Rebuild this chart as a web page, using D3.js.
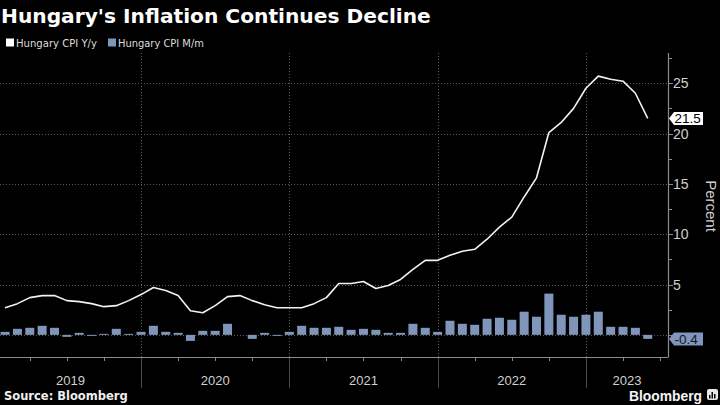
<!DOCTYPE html>
<html><head><meta charset="utf-8">
<script src="https://cdn.jsdelivr.net/npm/d3@7"></script>
<style>html,body{margin:0;padding:0;background:#000;}svg{display:block;}</style>
</head><body>
<svg id="c" width="720" height="405"></svg>
<script>
// ---- data ----
const startMonth = "2019-01";
const cpiYoY = [
  2.7, 3.1, 3.7, 3.9, 3.9, 3.4, 3.3, 3.1, 2.8, 2.9, 3.4, 4.0,
  4.7, 4.4, 3.9, 2.4, 2.2, 2.9, 3.8, 3.9, 3.4, 3.0, 2.7, 2.7,
  2.7, 3.1, 3.7, 5.1, 5.1, 5.3, 4.6, 4.9, 5.5, 6.5, 7.4, 7.4,
  7.9, 8.3, 8.5, 9.5, 10.7, 11.7, 13.7, 15.6, 20.1, 21.1, 22.5, 24.5,
  25.7, 25.4, 25.2, 24.0, 21.5
];
const cpiMoM = [
  0.3, 0.6, 0.7, 0.9, 0.7, -0.2, 0.2, -0.1, 0.1, 0.6, 0.1, 0.3,
  0.9, 0.3, 0.2, -0.6, 0.4, 0.4, 1.1, 0.0, -0.4, 0.2, -0.1, 0.3,
  0.9, 0.7, 0.7, 0.8, 0.5, 0.6, 0.5, 0.2, 0.2, 1.1, 0.7, 0.3,
  1.4, 1.1, 1.0, 1.6, 1.7, 1.5, 2.3, 1.8, 4.1, 2.0, 1.8, 2.0,
  2.3, 0.8, 0.8, 0.7, -0.4
];
const yearLabels = ["2019", "2020", "2021", "2022", "2023"];
const yTicks = [0, 5, 10, 15, 20, 25];
const seriesNames = ["Hungary CPI Y/y", "Hungary CPI M/m"];
const titleText = "Hungary's Inflation Continues Decline";
const sourceText = "Source: Bloomberg";
const yAxisTitle = "Percent";

// ---- setup ----
const svg = d3.select("#c");
const W = 720, H = 405;
const plot = {left: 0, right: 668, top: 53, bottom: 357};
const barColor = "#7f95b9";
const n = cpiYoY.length;
// month k (0 = Jan 2019) is plotted at its month end, i.e. k+1 months after the start
const x = d3.scaleLinear().domain([0.59, 54.64]).range([plot.left, plot.right]);
const y = d3.scaleLinear().domain([-2.2, 28]).range([plot.bottom, plot.top]);
const months = d3.range(n).map(k => ({k, t: k + 1, yoy: cpiYoY[k], mom: cpiMoM[k]}));
const sans = "Liberation Sans, Arial, sans-serif";
const narrow = "DejaVu Sans Condensed, Liberation Sans Narrow, Liberation Sans, sans-serif";

function fitText(sel, base, target) {
  const w = sel.node().getComputedTextLength();
  sel.attr("font-size", base * target / w);
}

svg.append("rect").attr("width", W).attr("height", H).attr("fill", "#000");

svg.append("clipPath").attr("id", "pc").append("rect")
  .attr("x", plot.left).attr("y", plot.top).attr("width", plot.right - plot.left).attr("height", plot.bottom - plot.top);

// horizontal grid
svg.append("g").selectAll("line").data(yTicks).join("line")
  .attr("x1", plot.left).attr("x2", plot.right)
  .attr("y1", d => Math.round(y(d)) + 0.5).attr("y2", d => Math.round(y(d)) + 0.5)
  .attr("stroke", "#5a5a5a").attr("stroke-width", 1).attr("stroke-dasharray", "1,2");

// year boundaries
const yearStarts = yearLabels.map((_, i) => i * 12).filter(t => x(t) > plot.left);
svg.append("g").selectAll("line").data(yearStarts).join("line")
  .attr("x1", d => Math.round(x(d)) + 0.5).attr("x2", d => Math.round(x(d)) + 0.5)
  .attr("y1", plot.top).attr("y2", plot.bottom)
  .attr("stroke", "#5a5a5a").attr("stroke-dasharray", "1,2");
svg.append("g").selectAll("line").data(yearStarts).join("line")
  .attr("x1", d => Math.round(x(d)) + 0.5).attr("x2", d => Math.round(x(d)) + 0.5)
  .attr("y1", plot.bottom).attr("y2", 388)
  .attr("stroke", "#4a4a4a").attr("stroke-width", 1);

// bars
const bw = 9;
svg.append("g").attr("clip-path", "url(#pc)").selectAll("rect").data(months).join("rect")
  .attr("x", d => x(d.t) - bw / 2)
  .attr("width", bw)
  .attr("y", d => y(Math.max(0, d.mom)))
  .attr("height", d => Math.abs(y(d.mom) - y(0)))
  .attr("fill", barColor);

// line
svg.append("path").datum(months)
  .attr("clip-path", "url(#pc)")
  .attr("d", d3.line().x(d => x(d.t)).y(d => y(d.yoy)))
  .attr("fill", "none").attr("stroke", "#f2f2f2").attr("stroke-width", 1.6)
  .attr("stroke-linejoin", "round");

// x axis
svg.append("line").attr("x1", plot.left).attr("x2", plot.right + 0.5)
  .attr("y1", plot.bottom + 0.5).attr("y2", plot.bottom + 0.5)
  .attr("stroke", "#8a8a8a").attr("stroke-width", 1.2);
const qTicks = d3.range(0, 57, 3).filter(t => t % 12 !== 0 && x(t) > plot.left && x(t) <= plot.right);
svg.append("g").selectAll("line").data(qTicks).join("line")
  .attr("x1", d => Math.round(x(d)) + 0.5).attr("x2", d => Math.round(x(d)) + 0.5)
  .attr("y1", plot.bottom).attr("y2", plot.bottom + 4)
  .attr("stroke", "#8a8a8a");
svg.append("g").selectAll("text").data(yearLabels).join("text")
  .attr("x", (d, i) => (Math.max(plot.left, x(i * 12)) + Math.min(plot.right, x(i * 12 + 12))) / 2)
  .attr("y", 385)
  .attr("text-anchor", "middle")
  .attr("font-family", sans).attr("font-size", 13)
  .attr("fill", "#d0d0d0")
  .text(d => d);

// y axis (right)
svg.append("line").attr("x1", plot.right + 0.5).attr("x2", plot.right + 0.5)
  .attr("y1", plot.top).attr("y2", plot.bottom)
  .attr("stroke", "#8a8a8a").attr("stroke-width", 1.2);
const minorTicks = d3.range(-2.5, 28, 2.5).filter(v => v >= -2.2 && v % 5 !== 0);
svg.append("g").selectAll("line").data(minorTicks).join("line")
  .attr("x1", plot.right).attr("x2", plot.right + 4)
  .attr("y1", d => Math.round(y(d)) + 0.5).attr("y2", d => Math.round(y(d)) + 0.5)
  .attr("stroke", "#8a8a8a");
svg.append("g").selectAll("line").data(yTicks).join("line")
  .attr("x1", plot.right).attr("x2", plot.right + 5)
  .attr("y1", d => Math.round(y(d)) + 0.5).attr("y2", d => Math.round(y(d)) + 0.5)
  .attr("stroke", "#8a8a8a");
svg.append("g").selectAll("text").data(yTicks.filter(v => v > 0)).join("text")
  .attr("x", plot.right + 5).attr("y", d => y(d) + 5)
  .attr("font-family", sans).attr("font-size", 14)
  .attr("fill", "#d0d0d0")
  .text(d => d);

svg.append("text")
  .attr("transform", `translate(706,${(plot.top + plot.bottom) / 2 + 1}) rotate(90)`)
  .attr("text-anchor", "middle")
  .attr("font-family", sans).attr("font-size", 15)
  .attr("fill", "#d0d0d0")
  .text(yAxisTitle);

// value labels
function valueTag(v, fill, textFill) {
  const cy = y(v);
  const g = svg.append("g");
  const x0 = plot.right + 1, tip = 5, w = 34, h = 13;
  g.append("path")
    .attr("d", `M${x0},${cy} L${x0 + tip},${cy - h / 2} L${x0 + w},${cy - h / 2} L${x0 + w},${cy + h / 2} L${x0 + tip},${cy + h / 2} Z`)
    .attr("fill", fill);
  const t = g.append("text").attr("x", x0 + tip + 0.5).attr("y", cy + 4.8)
    .attr("font-family", sans).attr("font-size", 13.5)
    .attr("fill", textFill).text(v.toFixed(1));
  const tw = t.node().getComputedTextLength();
  if (tw > w - tip - 1.5) fitText(t, 13.5, w - tip - 1.5);
}
valueTag(cpiYoY[n - 1], "#ffffff", "#000");
valueTag(cpiMoM[n - 1], barColor, "#10182a");

// title
const title = svg.append("text").attr("x", 1).attr("y", 23)
  .attr("font-family", "DejaVu Sans, sans-serif").attr("font-weight", "bold").attr("font-size", 21)
  .attr("fill", "#fff").text(titleText);
fitText(title, 21, 430);

// legend
const leg = svg.append("g").attr("font-family", narrow);
[["#ffffff", 6, 16, 81], [barColor, 108, 118, 86]].forEach((c, i) => {
  leg.append("rect").attr("x", c[1]).attr("y", 38.5).attr("width", 8).attr("height", 8).attr("fill", c[0]);
  const t = leg.append("text").attr("x", c[2]).attr("y", 47).attr("font-size", 12).attr("fill", "#dcdcdc").text(seriesNames[i]);
  fitText(t, 12, c[3]);
});

// source
svg.append("text").attr("x", 4).attr("y", 400)
  .attr("font-family", "DejaVu Sans, sans-serif").attr("font-weight", "bold").attr("font-size", 11.5)
  .attr("fill", "#f0f0f0").text(sourceText);

// Bloomberg logo
const bl = svg.append("text").attr("x", 629).attr("y", 400.5)
  .attr("font-family", sans).attr("font-weight", "bold").attr("font-size", 15)
  .attr("fill", "#f5f5f5").text("Bloomberg");
fitText(bl, 15, 73);
const lg = svg.append("g");
lg.append("rect").attr("x", 707).attr("y", 389).attr("width", 11).attr("height", 11).attr("rx", 2).attr("fill", "#e8e8e8");
[[709, 395, 3.5], [711.5, 392, 6.5], [714, 394, 4.5]].forEach(b =>
  lg.append("rect").attr("x", b[0]).attr("y", b[1]).attr("width", 1.5).attr("height", b[2]).attr("fill", "#000"));
</script>
</body></html>
